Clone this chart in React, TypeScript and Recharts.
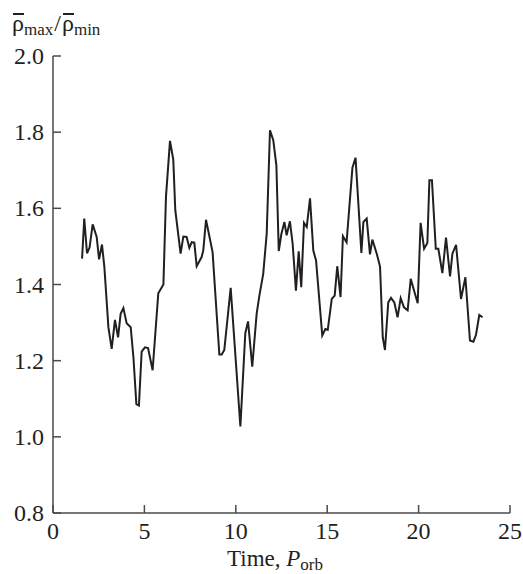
import { Line, LineChart, XAxis, YAxis } from "recharts";

const TIME = [
  1.59, 1.71, 1.86, 2.0, 2.17, 2.39, 2.52, 2.68, 2.81, 3.03, 3.21, 3.39, 3.56,
  3.7, 3.85, 4.03, 4.25, 4.4, 4.56, 4.7, 4.85, 5.03, 5.2, 5.45, 5.76, 6.04,
  6.18, 6.4, 6.58, 6.69, 6.98, 7.13, 7.31, 7.46, 7.59, 7.73, 7.86, 8.13, 8.22,
  8.37, 8.73, 9.1, 9.23, 9.37, 9.72, 10.25, 10.52, 10.67, 10.9, 11.14, 11.29,
  11.5, 11.69, 11.87, 12.05, 12.22, 12.35, 12.49, 12.66, 12.78, 12.96, 13.11,
  13.29, 13.44, 13.58, 13.73, 13.88, 14.06, 14.24, 14.39, 14.73, 14.9, 15.03,
  15.25, 15.41, 15.55, 15.73, 15.86, 16.06, 16.38, 16.55, 16.87, 16.98, 17.16,
  17.34, 17.47, 17.71, 17.89, 18.04, 18.16, 18.34, 18.49, 18.67, 18.85, 19.02,
  19.2, 19.4, 19.57, 19.75, 19.95, 20.11, 20.3, 20.48, 20.59, 20.73, 20.94,
  21.08, 21.3, 21.5, 21.72, 21.85, 22.05, 22.32, 22.56, 22.81, 23.0, 23.14,
  23.32, 23.5,
];

const RATIO = [
  1.468, 1.573, 1.482, 1.497, 1.558, 1.525, 1.466, 1.505, 1.446, 1.288, 1.231,
  1.307, 1.261, 1.323, 1.338, 1.298, 1.288, 1.209, 1.086, 1.082, 1.224, 1.235,
  1.233, 1.175, 1.377, 1.4, 1.63, 1.777, 1.728, 1.595, 1.481, 1.526, 1.525,
  1.496, 1.511, 1.51, 1.448, 1.472, 1.489, 1.57, 1.485, 1.216, 1.216, 1.228,
  1.391, 1.027, 1.272, 1.303, 1.184, 1.323, 1.371, 1.428, 1.533, 1.805, 1.779,
  1.713, 1.488, 1.532, 1.564, 1.529, 1.566, 1.507, 1.384, 1.487, 1.393, 1.562,
  1.551, 1.626, 1.489, 1.463, 1.266, 1.283, 1.281, 1.362, 1.371, 1.448, 1.367,
  1.527, 1.511, 1.707, 1.733, 1.483, 1.564, 1.573, 1.479, 1.518, 1.481, 1.447,
  1.261, 1.228, 1.353, 1.365, 1.353, 1.314, 1.364, 1.34, 1.332, 1.415, 1.384,
  1.351, 1.562, 1.494, 1.509, 1.674, 1.674, 1.494, 1.494, 1.43, 1.523, 1.421,
  1.481, 1.504, 1.362, 1.419, 1.253, 1.25, 1.268, 1.32, 1.314,
];

const X_TICKS = [0, 5, 10, 15, 20, 25];
const Y_TICKS = [0.8, 1.0, 1.2, 1.4, 1.6, 1.8, 2.0];

const FONT = "'Liberation Serif', serif";
const INK = "#231f20";
const AXIS = "#4a4a4a";

const data = TIME.map((t, i) => ({ t, ratio: RATIO[i] }));

const XTick = ({ x, y, payload }: any) => (
  <text
    x={x}
    y={y}
    dy={16}
    textAnchor="middle"
    fontFamily={FONT}
    fontSize={24}
    fill={INK}
  >
    {payload.value}
  </text>
);

const YTick = ({ x, y, payload }: any) => (
  <text
    x={x}
    y={y}
    dy={8}
    textAnchor="end"
    fontFamily={FONT}
    fontSize={24}
    fill={INK}
  >
    {Number(payload.value).toFixed(1)}
  </text>
);

const RhoBar = ({ sub }: { sub: string }) => (
  <span>
    <span style={{ position: "relative", display: "inline-block" }}>
      <span
        style={{
          position: "absolute",
          left: 1,
          right: 0,
          top: 4,
          height: 1.5,
          background: INK,
        }}
      />
      ρ
    </span>
    <span style={{ fontSize: 17, verticalAlign: "-4px" }}>{sub}</span>
  </span>
);

export default function App() {
  return (
    <div
      style={{
        position: "absolute",
        left: 0,
        top: 0,
        width: 523,
        height: 574,
        background: "#fff",
        fontFamily: FONT,
        color: INK,
      }}
    >
      <LineChart
        width={523}
        height={574}
        data={data}
        margin={{ top: 56, right: 13, bottom: 31, left: 0 }}
      >
        <XAxis
          dataKey="t"
          type="number"
          domain={[0, 25]}
          ticks={X_TICKS}
          allowDataOverflow
          height={30}
          stroke={AXIS}
          strokeWidth={1.5}
          tickSize={-8}
          tickMargin={18}
          tick={<XTick />}
        />
        <YAxis
          type="number"
          domain={[0.8, 2.0]}
          ticks={Y_TICKS}
          allowDataOverflow
          width={53}
          stroke={AXIS}
          strokeWidth={1.5}
          tickSize={-8}
          tickMargin={17}
          tick={<YTick />}
        />
        <Line
          dataKey="ratio"
          type="linear"
          stroke={INK}
          strokeWidth={2}
          dot={false}
          isAnimationActive={false}
        />
      </LineChart>

      <div
        style={{
          position: "absolute",
          left: 12,
          top: 9,
          fontSize: 24,
          lineHeight: "28px",
          whiteSpace: "nowrap",
        }}
      >
        <RhoBar sub="max" />
        <span style={{ margin: "0 1px" }}>/</span>
        <RhoBar sub="min" />
      </div>

      <div
        style={{
          position: "absolute",
          left: 227,
          top: 546,
          fontSize: 23,
          lineHeight: "26px",
          whiteSpace: "nowrap",
        }}
      >
        Time, <i>P</i>
        <span style={{ fontSize: 17, verticalAlign: "-4px" }}>orb</span>
      </div>
    </div>
  );
}
